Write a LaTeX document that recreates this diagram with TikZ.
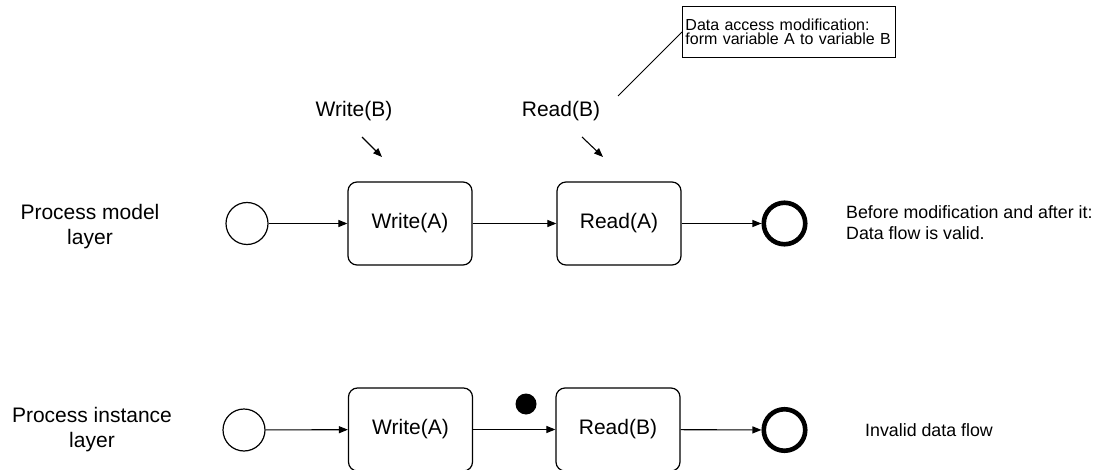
\documentclass[tikz,border=0pt]{standalone}
\usepackage{fontspec}
\setmainfont{Liberation Sans}
\usetikzlibrary{arrows.meta}

\tikzset{
  flow/.style={draw=black, line width=1.1pt, -{Triangle[length=9pt,width=7pt]}},
  hint/.style={draw=black, line width=1.1pt, -{Triangle[length=9pt,width=7pt]}},
  task/.style={draw=black, line width=1.2pt, rounded corners=9pt, minimum width=124pt,
    minimum height=83pt, inner sep=0pt, font=\fontsize{21}{25}\selectfont},
  startev/.style={circle, draw=black, line width=1.2pt, minimum size=42pt, inner sep=0pt},
  endev/.style={circle, draw=black, line width=4.6pt, minimum size=41.5pt, inner sep=0pt},
  token/.style={circle, fill=black, minimum size=21pt, inner sep=0pt},
  layerlbl/.style={align=center, inner sep=0pt, font=\fontsize{21}{25}\selectfont},
  varlbl/.style={inner sep=0pt, font=\fontsize{21}{25}\selectfont},
  note/.style={align=left, inner sep=0pt, font=\fontsize{17.8}{21.7}\selectfont},
  callout/.style={draw=black, line width=0.9pt, align=left, text width=207pt, inner sep=3pt,
    minimum height=51pt, font=\fontsize{16}{14.5}\selectfont},
}

\begin{document}
\begin{tikzpicture}[x=1pt, y=-1pt]
  \useasboundingbox (0,0) rectangle (1099,470);

  % layer titles
  \node[layerlbl] (modellbl) at (90,227) {Process model\\layer};
  \node[layerlbl] (instlbl)  at (92,430) {Process instance\\layer};

  % process model layer
  \node[startev] (s1) at (247,223.5) {};
  \node[task] (w1) at (410,223.5) {Write(A)};
  \node[task] (r1) at (619,223.5) {Read(A)};
  \node[endev] (e1) at (784.5,223.5) {};
  \draw[flow] (s1) -- (w1);
  \draw[flow] (w1) -- (r1);
  \draw[flow] (r1) -- (e1);

  % modified data accesses
  \node[varlbl] (wb) at (354,111) {Write(B)};
  \node[varlbl] (rb) at (561,111) {Read(B)};
  \coordinate (wbs) at (362,137);
  \coordinate (wbe) at (382,157);
  \coordinate (rbs) at (582,137);
  \coordinate (rbe) at (603,157);
  \draw[hint] (wbs) -- (wbe);
  \draw[hint] (rbs) -- (rbe);

  % change annotation
  \node[callout, anchor=north west] (chg) at (682,6)
    {Data access modification:\\form variable A to variable B};
  \coordinate (chgtip) at (618,96);
  \draw[line width=0.8pt] (chg.west) -- (chgtip);

  \node[note, anchor=west] (valid) at (846,222.7)
    {Before modification and after it:\\Data flow is valid.};

  % process instance layer
  \node[startev] (s2) at (244,430) {};
  \node[task] (w2) at (410.5,429.5) {Write(A)};
  \node[task] (r2) at (618,429.5) {Read(B)};
  \node[endev] (e2) at (784.5,430) {};
  \draw[flow] (s2) -- (w2);
  \draw[flow] (w2) -- (r2);
  \draw[flow] (r2) -- (e2);
  \node[token] (tok) at (526,404) {};

  \node[note, anchor=west] (invalid) at (865,430) {Invalid data flow};
\end{tikzpicture}
\end{document}
